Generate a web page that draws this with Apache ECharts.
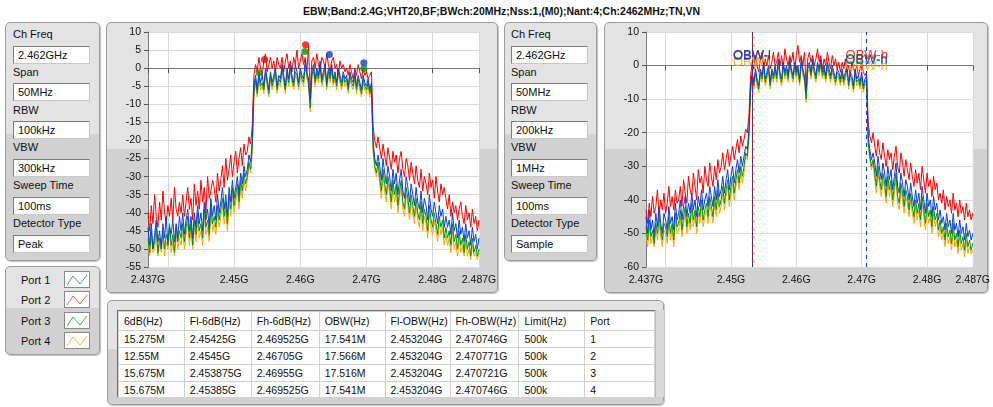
<!DOCTYPE html>
<html>
<head>
<meta charset="utf-8">
<script src="https://cdn.jsdelivr.net/npm/echarts@6/dist/echarts.min.js"></script>
<style>
body { margin:0; width:993px; height:407px; background:#fff; position:relative; overflow:hidden;
       font-family:"Liberation Sans", Arial, sans-serif; font-size:11px; color:#111; }
.panel { position:absolute; box-sizing:border-box; border:1px solid #9c9c9c; border-radius:5px;
         background:linear-gradient(#e3e3e3 0, #e3e3e3 47%, #d1d1d1 47%, #d1d1d1 100%);
         box-shadow:1px 1px 1px rgba(0,0,0,0.25); }
.lbl { position:absolute; white-space:nowrap; line-height:14px; }
.box { position:absolute; box-sizing:border-box; height:18px; background:#fff; border:1px solid #7d7d7d;
       border-right-color:#c8c8c8; border-bottom-color:#c8c8c8; padding-left:4px; line-height:16px; }
#title { position:absolute; left:200px; width:603px; top:5px; text-align:center; font-weight:bold; font-size:10.5px; }
#tbl { position:absolute; left:117px; top:310px; width:538px; height:87px; overflow:hidden; background:#fff;
       border-left:1px solid #6f6f6f; border-top:1px solid #6f6f6f; box-sizing:border-box; }
#tbl table { border-collapse:collapse; table-layout:fixed; font-size:10.5px; }
#tbl td { border:1px solid #d0d0d0; padding:0 0 0 5px; height:16px; white-space:nowrap; overflow:hidden; }
#tbl tr.h td { height:18px; }
#scroll { position:absolute; left:655px; top:310px; width:8px; height:87px; background:#d9d9d9; border-left:1px solid #bdbdbd; }
#chart { position:absolute; left:0; top:0; width:993px; height:407px; z-index:2; pointer-events:none; }
</style>
</head>
<body>
<div id="title"></div>
<div class="panel" style="left:5px;top:22px;width:95px;height:239px"></div>
<div class="panel" style="left:5px;top:266px;width:95px;height:89px"></div>
<div class="panel" style="left:106px;top:22px;width:392px;height:271px"></div>
<div class="panel" style="left:504px;top:22px;width:93px;height:239px"></div>
<div class="panel" style="left:604px;top:22px;width:384px;height:271px"></div>
<div class="panel" style="left:107px;top:300px;width:557px;height:105px"></div>
<div id="tbl"></div>
<div id="scroll"></div>
<div id="chart"></div>
<script>
var titleText = 'EBW;Band:2.4G;VHT20,BF;BWch:20MHz;Nss:1,(M0);Nant:4;Ch:2462MHz;TN,VN';

var ports = ['Port 1', 'Port 2', 'Port 3', 'Port 4'];
var portColors = ['#0a3fe0', '#ff0000', '#009900', '#ffa500'];
var legendColors = ['#5a7cff', '#ff5a5a', '#3cb43c', '#ffb437'];

var settingsPeak = [['Ch Freq', '2.462GHz'], ['Span', '50MHz'], ['RBW', '100kHz'], ['VBW', '300kHz'], ['Sweep Time', '100ms'], ['Detector Type', 'Peak']];
var settingsSample = [['Ch Freq', '2.462GHz'], ['Span', '50MHz'], ['RBW', '200kHz'], ['VBW', '1MHz'], ['Sweep Time', '100ms'], ['Detector Type', 'Sample']];

// sweep: 2437 MHz .. 2487 MHz, 0.25 MHz per point, one row = 5 MHz (dBm)
var freqStartMHz = 2437;
var freqStepMHz = 0.25;

var peakP1 = [
  -44,-49,-43,-50,-46,-42,-48,-45,-50,-43,-47,-41,-49,-44,-46,-42,-48,-43,-47,-41,
  -45,-40,-46,-42,-39,-45,-41,-47,-40,-44,-38,-43,-40,-45,-37,-42,-39,-44,-36,-41,
  -38,-42,-35,-40,-37,-33,-39,-35,-41,-33,-37,-31,-36,-33,-30,-35,-29,-32,-27,-30,
  -28,-24,-26,-20,-5,-2,-6,-1,-4,-2,-5,0,-3,-6,-1,-4,-2,0,-5,-2,
  -3,1,-2,-5,0,-3,1,-2,-4,1,-1,-4,0,-2,-3,2,-1,-3,-9,-1,
  1,-3,0,-2,2,-3,-1,1,-4,0,-2,1,-3,-1,-4,0,-2,-4,-1,-3,
  -2,-5,-1,-3,-4,-1,-5,-2,-4,-6,-2,-4,-5,-3,-6,-4,-20,-25,-27,-24,
  -27,-31,-25,-29,-32,-27,-30,-34,-28,-32,-29,-35,-31,-28,-34,-36,-30,-33,-37,-32,
  -35,-38,-33,-37,-39,-34,-40,-36,-38,-42,-35,-39,-41,-37,-40,-43,-38,-41,-39,-44,
  -41,-44,-42,-46,-40,-45,-43,-47,-42,-46,-44,-48,-43,-47,-45,-49,-44,-48,-46,-50,
  -47];
var peakP2 = [
  -40,-45,-38,-43,-35,-41,-44,-37,-42,-34,-40,-43,-38,-41,-36,-42,-33,-39,-41,-37,
  -40,-35,-41,-37,-33,-39,-36,-42,-32,-38,-34,-39,-31,-37,-33,-40,-30,-36,-34,-31,
  -33,-37,-29,-34,-31,-27,-33,-25,-31,-28,-24,-30,-26,-23,-29,-25,-22,-27,-21,-24,
  -23,-19,-21,-16,-2,1,-1,3,0,-2,2,4,-1,1,3,0,2,-1,3,1,
  0,3,-1,2,4,0,2,-1,3,1,5,0,2,4,1,3,-1,6,-7,2,
  3,0,4,1,-1,3,2,0,4,1,-1,2,3,0,1,-2,2,0,1,-1,
  0,-2,1,-1,-3,0,-2,1,-1,-3,0,-2,-1,-3,-2,-1,-16,-20,-22,-19,
  -22,-25,-21,-24,-27,-22,-25,-28,-23,-26,-24,-29,-25,-23,-28,-30,-25,-27,-31,-26,
  -29,-32,-27,-31,-33,-28,-34,-30,-32,-35,-29,-33,-31,-36,-30,-34,-37,-32,-35,-33,
  -36,-39,-35,-41,-37,-40,-38,-42,-39,-37,-41,-43,-38,-42,-40,-44,-39,-43,-41,-45,
  -42];
var peakP3 = [
  -47,-51,-45,-50,-48,-44,-51,-47,-49,-45,-50,-46,-48,-43,-49,-46,-51,-44,-48,-45,
  -47,-43,-48,-44,-41,-47,-43,-49,-42,-46,-40,-45,-43,-47,-39,-44,-42,-46,-38,-43,
  -41,-44,-38,-42,-39,-36,-41,-37,-43,-35,-39,-33,-38,-35,-32,-37,-31,-34,-29,-32,
  -30,-26,-28,-22,-7,-3,-7,-2,-5,-4,-6,-1,-4,-7,-2,-5,-3,-1,-6,-3,
  -4,0,-3,-6,-1,-4,0,-3,-5,-1,-2,-5,-1,-3,-4,1,-2,-4,-11,-2,
  0,-4,-1,-3,1,-4,-2,0,-5,-1,-3,0,-4,-2,-5,-1,-3,-5,-2,-4,
  -3,-6,-2,-4,-5,-2,-6,-3,-5,-7,-3,-5,-6,-4,-7,-5,-22,-27,-29,-26,
  -30,-34,-28,-32,-35,-30,-33,-37,-31,-35,-32,-38,-34,-31,-37,-39,-33,-36,-40,-35,
  -38,-41,-36,-40,-42,-37,-43,-39,-41,-45,-38,-42,-44,-40,-43,-46,-41,-44,-42,-47,
  -44,-47,-45,-49,-43,-48,-46,-50,-45,-49,-47,-51,-46,-50,-48,-52,-47,-51,-49,-52,
  -50];
var peakP4 = [
  -49,-52,-47,-51,-50,-46,-52,-48,-51,-47,-52,-48,-50,-45,-51,-48,-52,-46,-50,-47,
  -49,-45,-50,-46,-43,-49,-45,-50,-44,-48,-42,-47,-45,-49,-41,-46,-44,-48,-40,-45,
  -43,-46,-40,-44,-41,-38,-43,-39,-45,-37,-41,-35,-40,-37,-34,-39,-33,-36,-31,-34,
  -31,-27,-29,-23,-8,-4,-8,-3,-6,-5,-7,-2,-5,-8,-3,-6,-4,-2,-7,-4,
  -5,-1,-4,-7,-2,-5,-1,-4,-6,-2,-3,-6,-2,-4,-5,0,-3,-5,-12,-3,
  -1,-5,-2,-4,0,-5,-3,-1,-6,-2,-4,-1,-5,-3,-6,-2,-4,-6,-3,-5,
  -4,-7,-3,-5,-6,-3,-7,-4,-6,-8,-4,-6,-7,-5,-8,-6,-23,-28,-30,-27,
  -32,-36,-30,-34,-37,-32,-35,-39,-33,-37,-34,-40,-36,-33,-39,-41,-35,-38,-42,-37,
  -40,-43,-38,-42,-44,-39,-45,-41,-43,-47,-40,-44,-46,-42,-45,-48,-43,-46,-44,-49,
  -46,-49,-47,-51,-45,-50,-48,-52,-47,-51,-49,-52,-48,-52,-50,-53,-49,-52,-51,-53,
  -51];

var sampleP1 = [
  -45,-50,-43,-49,-46,-51,-44,-48,-42,-47,-50,-44,-46,-49,-42,-47,-45,-49,-41,-46,
  -44,-40,-46,-42,-39,-45,-41,-44,-38,-43,-40,-45,-39,-42,-37,-43,-40,-38,-42,-36,
  -39,-42,-36,-40,-34,-39,-37,-33,-38,-34,-31,-37,-33,-30,-35,-31,-28,-32,-27,-30,
  -27,-24,-25,-19,-6,-2,-5,-1,-4,-6,-1,-3,1,-4,-2,0,-5,-1,-3,0,
  -3,2,-2,-4,1,-2,0,-3,2,-1,-3,1,-2,0,-4,2,-1,-3,-8,0,
  1,-2,2,-1,-3,1,-1,2,-2,0,-3,1,-1,-3,0,-2,-4,-1,-2,-4,
  -1,-4,-2,0,-5,-2,-3,-6,-1,-4,-3,-5,-2,-6,-4,-3,-21,-25,-28,-26,
  -29,-33,-27,-31,-34,-29,-32,-36,-30,-34,-31,-37,-33,-29,-36,-38,-32,-35,-39,-34,
  -36,-40,-35,-39,-42,-37,-41,-38,-43,-36,-40,-44,-38,-42,-40,-45,-39,-43,-41,-46,
  -43,-47,-45,-49,-44,-48,-46,-50,-44,-49,-47,-51,-46,-50,-48,-52,-47,-51,-49,-52,
  -50];
var sampleP2 = [
  -43,-47,-41,-45,-39,-44,-42,-37,-45,-40,-43,-38,-44,-41,-36,-42,-39,-43,-37,-41,
  -40,-36,-42,-34,-38,-41,-33,-37,-39,-32,-36,-40,-31,-35,-33,-38,-30,-34,-36,-29,
  -33,-36,-30,-34,-28,-32,-30,-26,-31,-28,-25,-30,-27,-24,-28,-25,-22,-26,-21,-24,
  -22,-19,-20,-15,-3,1,-1,3,0,-2,2,4,-1,2,0,3,-1,1,4,0,
  1,4,0,3,-1,5,2,0,3,1,4,-1,3,6,1,3,0,4,-6,2,
  4,1,3,0,2,5,1,3,-1,2,0,4,1,-1,3,0,2,-1,1,-2,
  1,-1,2,-2,0,-3,1,-1,-2,0,-3,-1,1,-2,-3,-2,-17,-21,-23,-20,
  -24,-27,-22,-26,-28,-23,-27,-30,-25,-28,-26,-31,-27,-24,-30,-32,-26,-29,-33,-28,
  -31,-34,-29,-33,-36,-31,-35,-32,-37,-30,-34,-38,-32,-36,-34,-39,-33,-37,-35,-40,
  -38,-41,-37,-43,-39,-42,-40,-44,-38,-43,-41,-45,-40,-44,-42,-46,-41,-45,-43,-46,
  -44];
var sampleP3 = [
  -48,-52,-46,-51,-49,-53,-47,-50,-45,-49,-52,-47,-48,-51,-45,-50,-47,-52,-44,-48,
  -47,-43,-49,-45,-42,-48,-44,-47,-41,-46,-43,-48,-42,-45,-40,-46,-43,-41,-45,-39,
  -42,-45,-39,-43,-37,-42,-40,-36,-41,-37,-34,-40,-36,-33,-38,-34,-31,-35,-30,-33,
  -30,-26,-27,-21,-7,-3,-6,-2,-5,-7,-2,-4,0,-5,-3,-1,-6,-2,-4,-1,
  -4,1,-3,-5,0,-3,-1,-4,1,-2,-4,0,-3,-1,-5,1,-2,-4,-10,-1,
  0,-3,1,-2,-4,0,-2,1,-3,-1,-4,0,-2,-4,-1,-3,-5,-2,-3,-5,
  -2,-5,-3,-1,-6,-3,-4,-7,-2,-5,-4,-6,-3,-7,-5,-4,-23,-27,-30,-28,
  -32,-36,-30,-34,-37,-32,-35,-39,-33,-37,-34,-40,-36,-32,-39,-41,-35,-38,-42,-37,
  -39,-43,-38,-42,-45,-40,-44,-41,-46,-39,-43,-47,-41,-45,-43,-48,-42,-46,-44,-49,
  -46,-50,-48,-52,-47,-51,-49,-53,-47,-52,-50,-54,-49,-53,-51,-55,-50,-54,-52,-55,
  -53];
var sampleP4 = [
  -50,-54,-48,-53,-51,-54,-49,-52,-47,-51,-54,-49,-50,-53,-47,-52,-49,-54,-46,-50,
  -49,-45,-51,-47,-44,-50,-46,-49,-43,-48,-45,-50,-44,-47,-42,-48,-45,-43,-47,-41,
  -44,-47,-41,-45,-39,-44,-42,-38,-43,-39,-36,-42,-38,-35,-40,-36,-33,-37,-32,-35,
  -32,-27,-28,-22,-8,-4,-7,-3,-6,-8,-3,-5,-1,-6,-4,-2,-7,-3,-5,-2,
  -5,0,-4,-6,-1,-4,-2,-5,0,-3,-5,-1,-4,-2,-6,0,-3,-5,-11,-2,
  -1,-4,0,-3,-5,-1,-3,0,-4,-2,-5,-1,-3,-5,-2,-4,-6,-3,-4,-6,
  -3,-6,-4,-2,-7,-4,-5,-8,-3,-6,-5,-7,-4,-8,-6,-5,-24,-28,-31,-29,
  -34,-38,-32,-36,-39,-34,-37,-41,-35,-39,-36,-42,-38,-34,-41,-43,-37,-40,-44,-39,
  -41,-45,-40,-44,-47,-42,-46,-43,-48,-41,-45,-49,-43,-47,-45,-50,-44,-48,-46,-51,
  -48,-52,-50,-54,-49,-53,-51,-55,-49,-54,-52,-56,-51,-55,-53,-57,-52,-56,-54,-56,
  -55];

// peak markers on the left graph [MHz, dBm]
var markersP1 = [[2464.4, 3.8], [2469.6, 1.5]];
var markersP2 = [[2454.6, 2.4], [2460.8, 6.5]];
var markersP3 = [[2453.8, -1.3], [2460.7, 4.6], [2469.6, -0.1]];
var markersP4 = [];

// OBW cursors (MHz) and the level their labels sit at (dBm)
var obwLowMHz = [2453.204, 2453.204, 2453.204, 2453.204];
var obwHighMHz = [2470.746, 2470.771, 2470.721, 2470.746];
var obwLowLabelLevel = [3.1, 3.1, 2.6, 0.9];
var obwHighLabelLevel = [1.5, 3.1, 1.8, -0.3];

var xTickValues = [2437, 2440, 2450, 2460, 2470, 2480, 2487];
var xLabelValues = [2437, 2450, 2460, 2470, 2480, 2487];

var tableHeader = ['6dB(Hz)', 'Fl-6dB(Hz)', 'Fh-6dB(Hz)', 'OBW(Hz)', 'Fl-OBW(Hz)', 'Fh-OBW(Hz)', 'Limit(Hz)', 'Port'];
var tableRows = [
  ['15.275M', '2.45425G', '2.469525G', '17.541M', '2.453204G', '2.470746G', '500k', '1'],
  ['12.55M', '2.4545G', '2.46705G', '17.566M', '2.453204G', '2.470771G', '500k', '2'],
  ['15.675M', '2.453875G', '2.46955G', '17.516M', '2.453204G', '2.470721G', '500k', '3'],
  ['15.675M', '2.45385G', '2.469525G', '17.541M', '2.453204G', '2.470746G', '500k', '4']
];
var colWidths = [66, 67, 68, 66, 65, 69, 66, 70];

// ---------- panels ----------
document.getElementById('title').textContent = titleText;

function addSettings(list, x) {
  list.forEach(function (s, i) {
    var l = document.createElement('div');
    l.className = 'lbl';
    l.style.left = x + 'px';
    l.style.top = (27 + i * 37.8) + 'px';
    l.textContent = s[0];
    document.body.appendChild(l);
    var b = document.createElement('div');
    b.className = 'box';
    b.style.left = x + 'px';
    b.style.width = '77px';
    b.style.top = (45.5 + i * 37.8) + 'px';
    b.textContent = s[1];
    document.body.appendChild(b);
  });
}
addSettings(settingsPeak, 13);
addSettings(settingsSample, 511);

ports.forEach(function (p, i) {
  var y = 273 + i * 20.4;
  var l = document.createElement('div');
  l.className = 'lbl';
  l.style.left = '21px';
  l.style.top = y + 'px';
  l.textContent = p;
  document.body.appendChild(l);
  var ic = document.createElement('div');
  ic.style.cssText = 'position:absolute;left:64px;top:' + (y - 2) + 'px;width:26px;height:17px;background:#fff;border:1px solid #8a8a8a;box-sizing:border-box';
  ic.innerHTML = '<svg width="24" height="15"><polyline points="2,13 8,4 15,12 22,3" fill="none" stroke="' + legendColors[i] + '" stroke-width="1"/></svg>';
  document.body.appendChild(ic);
});

var html = '<table><colgroup>' + colWidths.map(function (w) { return '<col style="width:' + w + 'px">'; }).join('') + '</colgroup>';
html += '<tr class="h">' + tableHeader.map(function (h) { return '<td>' + h + '</td>'; }).join('') + '</tr>';
tableRows.forEach(function (r) {
  html += '<tr>' + r.map(function (c) { return '<td>' + c + '</td>'; }).join('') + '</tr>';
});
html += '<tr>' + tableHeader.map(function () { return '<td></td>'; }).join('') + '</tr></table>';
document.getElementById('tbl').innerHTML = html;

// ---------- graphs ----------
var myChart = echarts.init(document.getElementById('chart'));

function trace(values) {
  return values.map(function (v, i) { return [freqStartMHz + i * freqStepMHz, v]; });
}

function xAxisFor(gridIndex) {
  return {
    type: 'value', gridIndex: gridIndex, min: 2437, max: 2487,
    axisLine: { show: true, lineStyle: { color: '#7a7a7a' } },
    axisTick: { show: true, length: 5, customValues: xTickValues, lineStyle: { color: '#555' } },
    axisLabel: { customValues: xLabelValues, margin: 8, color: '#111', fontSize: 10.5,
                 fontFamily: 'Liberation Sans', formatter: function (v) { return (v / 1000) + 'G'; } },
    splitLine: { show: true, lineStyle: { color: '#d9d9d9' } }
  };
}
function yAxisFor(gridIndex, min, max, step) {
  return {
    type: 'value', gridIndex: gridIndex, min: min, max: max, interval: step,
    axisLine: { show: true, lineStyle: { color: '#7a7a7a' } },
    axisTick: { show: true, length: 4, lineStyle: { color: '#555' } },
    axisLabel: { margin: 7, color: '#111', fontSize: 10.5, fontFamily: 'Liberation Sans' },
    splitLine: { show: true, lineStyle: { color: '#d9d9d9' } }
  };
}

var peakTraces = [peakP1, peakP2, peakP3, peakP4];
var sampleTraces = [sampleP1, sampleP2, sampleP3, sampleP4];
var peakMarkers = [markersP1, markersP2, markersP3, markersP4];
var drawOrder = [3, 2, 1, 0];

var series = [];
drawOrder.forEach(function (p) {
  series.push({
    name: ports[p], type: 'line', xAxisIndex: 0, yAxisIndex: 0, data: trace(peakTraces[p]),
    showSymbol: false, silent: true, lineStyle: { width: 1, color: portColors[p] }
  });
});
drawOrder.forEach(function (p) {
  // only the red and blue cursors show in the screenshot, the others sit underneath them
  var lines = [];
  if (p === 1) { lines = [{ xAxis: obwLowMHz[p] }]; }
  if (p === 0) { lines = [{ xAxis: obwLowMHz[p] }, { xAxis: obwHighMHz[p] }]; }
  series.push({
    name: ports[p], type: 'line', xAxisIndex: 1, yAxisIndex: 1, data: trace(sampleTraces[p]),
    showSymbol: false, silent: true, lineStyle: { width: 1, color: portColors[p] },
    markLine: {
      silent: true, symbol: 'none', label: { show: false },
      lineStyle: { color: portColors[p], width: 1, type: [4, 4], dashOffset: p === 1 ? 4 : 0 },
      data: lines
    }
  });
});
drawOrder.forEach(function (p) {
  series.push({
    type: 'scatter', xAxisIndex: 0, yAxisIndex: 0, data: peakMarkers[p], z: 5,
    symbol: 'circle', symbolSize: 7, itemStyle: { color: portColors[p] }, silent: true
  });
  series.push({
    type: 'scatter', xAxisIndex: 1, yAxisIndex: 1, z: 6, silent: true,
    data: [[obwLowMHz[p], obwLowLabelLevel[p], 'OBW-l'], [obwHighMHz[p], obwHighLabelLevel[p], 'OBW-h']],
    symbolSize: 2, itemStyle: { color: 'rgba(0,0,0,0)' },
    label: { show: true, position: 'inside', color: portColors[p], fontSize: 13, fontFamily: 'Liberation Sans',
             formatter: function (d) { return d.data[2]; } }
  });
});

option = {
  animation: false,
  grid: [
    { left: 148, top: 32, width: 331, height: 235, show: true, backgroundColor: '#fff', borderWidth: 0 },
    { left: 646, top: 32, width: 331, height: 235, show: true, backgroundColor: '#fff', borderWidth: 0 }
  ],
  xAxis: [xAxisFor(0), xAxisFor(1)],
  yAxis: [yAxisFor(0, -55, 10, 5), yAxisFor(1, -60, 10, 10)],
  series: series
};

myChart.setOption(option);

[peakP1, peakP2, peakP3, peakP4, sampleP1, sampleP2, sampleP3, sampleP4].forEach(function (a, i) {
  if (a.length !== 201) { throw new Error('trace ' + i + ' has ' + a.length + ' points'); }
});
</script>
</body>
</html>
